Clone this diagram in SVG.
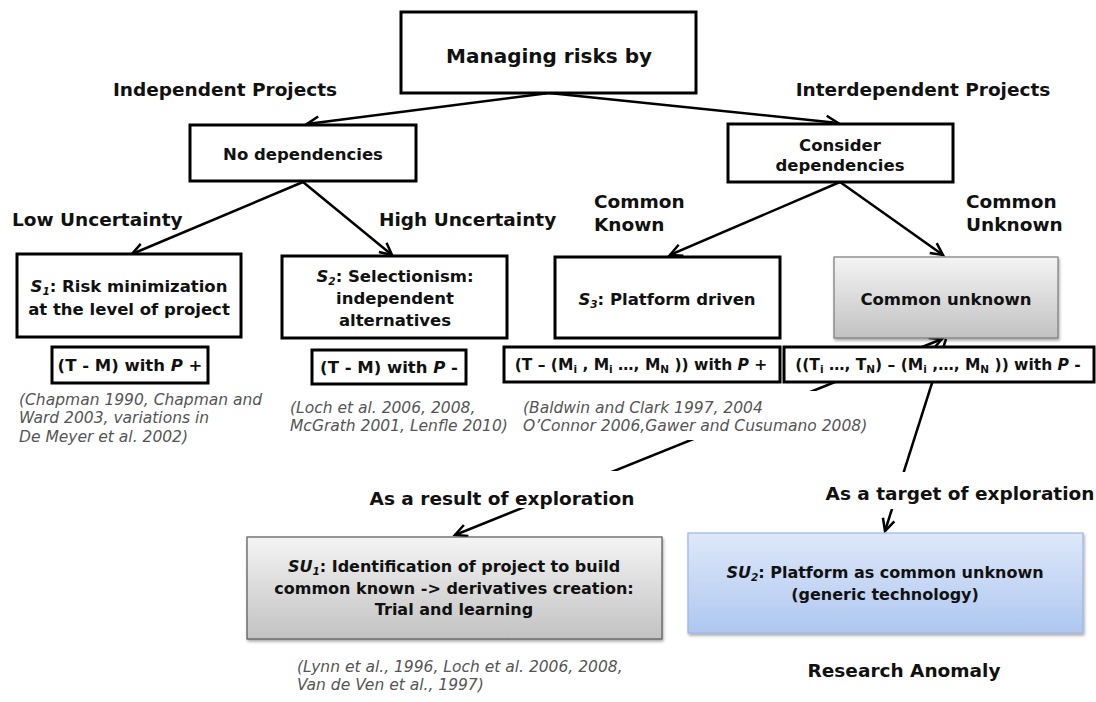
<svg xmlns="http://www.w3.org/2000/svg" width="1096" height="702" viewBox="0 0 1096 702">
<style>
  text { font-family: "DejaVu Sans", "Liberation Sans", sans-serif; fill: #111; }
  .lbl { font-weight: bold; font-size: 18.5px; }
  .nt { font-weight: bold; font-size: 16.5px; text-anchor: middle; }
  .ft { font-weight: bold; font-size: 15.5px; text-anchor: middle; }
  .cit { font-style: italic; font-size: 15.5px; fill: #555; }
  .box { fill: #fff; stroke: #000; stroke-width: 3; }
  .con { fill: none; stroke: #000; stroke-width: 2.5; }
  .sub { font-size: 10.5px; }
</style>
<defs>
  <marker id="arr" markerWidth="18" markerHeight="18" refX="15" refY="8" orient="auto-start-reverse" markerUnits="userSpaceOnUse">
    <path d="M3,2 L15,8 L3,14" fill="none" stroke="#000" stroke-width="2.5"/>
  </marker>
  <linearGradient id="gGray" x1="0" y1="0" x2="0" y2="1">
    <stop offset="0" stop-color="#f4f4f4"/>
    <stop offset="1" stop-color="#c2c2c2"/>
  </linearGradient>
  <linearGradient id="gBlue" x1="0" y1="0" x2="0" y2="1">
    <stop offset="0" stop-color="#dee8f9"/>
    <stop offset="1" stop-color="#aec7f0"/>
  </linearGradient>
  <filter id="sh" x="-5%" y="-5%" width="112%" height="120%">
    <feDropShadow dx="1" dy="2" stdDeviation="1.5" flood-color="#000" flood-opacity="0.35"/>
  </filter>
</defs>
<rect width="1096" height="702" fill="#fff"/>

<g id="connectors">
  <line class="con" x1="549" y1="93" x2="307" y2="124" marker-end="url(#arr)"/>
  <line class="con" x1="549" y1="93" x2="838" y2="123" marker-end="url(#arr)"/>
  <line class="con" x1="303" y1="182" x2="132" y2="254" marker-end="url(#arr)"/>
  <line class="con" x1="303" y1="182" x2="392" y2="255" marker-end="url(#arr)"/>
  <line class="con" x1="840" y1="182" x2="670" y2="255" marker-end="url(#arr)"/>
  <line class="con" x1="840" y1="182" x2="943" y2="255" marker-end="url(#arr)"/>
  <line class="con" x1="455" y1="535" x2="942" y2="339" marker-start="url(#arr)" marker-end="url(#arr)"/>
  <line class="con" x1="946" y1="339" x2="885" y2="531" marker-end="url(#arr)"/>
</g>

<g id="top">
  <rect class="box" x="401" y="12" width="295" height="81"/>
  <text x="549" y="63" style="font-weight:bold;font-size:20px" text-anchor="middle">Managing risks by</text>
</g>

<g id="label-independent"><text class="lbl" x="225" y="96" text-anchor="middle">Independent Projects</text></g>
<g id="label-interdependent"><text class="lbl" x="923" y="96" text-anchor="middle">Interdependent Projects</text></g>

<g id="no-dependencies">
  <rect class="box" x="190" y="125" width="226" height="56"/>
  <text class="nt" x="303" y="160">No dependencies</text>
</g>

<g id="consider-dependencies">
  <rect class="box" x="728" y="124" width="225" height="58"/>
  <text class="nt" x="840" y="151">Consider</text>
  <text class="nt" x="840" y="171">dependencies</text>
</g>

<g id="label-low"><text class="lbl" x="12" y="226">Low Uncertainty</text></g>
<g id="label-high"><text class="lbl" x="379" y="226">High Uncertainty</text></g>
<g id="label-common-known"><text class="lbl" x="594" y="208">Common</text><text class="lbl" x="594" y="231">Known</text></g>
<g id="label-common-unknown"><text class="lbl" x="966" y="208">Common</text><text class="lbl" x="966" y="231">Unknown</text></g>

<g id="s1">
  <rect class="box" x="17" y="254" width="224" height="83"/>
  <text class="nt" x="129" y="292"><tspan font-style="italic">S<tspan class="sub" baseline-shift="-3">1</tspan></tspan>: Risk minimization</text>
  <text class="nt" x="129" y="315">at the level of project</text>
</g>

<g id="s2">
  <rect class="box" x="282" y="256" width="225" height="82"/>
  <text class="nt" x="395" y="282"><tspan font-style="italic">S<tspan class="sub" baseline-shift="-3">2</tspan></tspan>: Selectionism:</text>
  <text class="nt" x="395" y="304">independent</text>
  <text class="nt" x="395" y="326">alternatives</text>
</g>

<g id="s3">
  <rect class="box" x="555" y="257" width="225" height="81"/>
  <text class="nt" x="667" y="305"><tspan font-style="italic">S<tspan class="sub" baseline-shift="-3">3</tspan></tspan>: Platform driven</text>
</g>

<g id="common-unknown">
  <rect x="834" y="257" width="224" height="81" fill="url(#gGray)" stroke="#7a7a7a" stroke-width="1.2" filter="url(#sh)"/>
  <text class="nt" x="946" y="305">Common unknown</text>
</g>

<g id="f1">
  <rect class="box" x="52" y="347" width="156" height="36"/>
  <text class="nt" x="130" y="371">(T - M) with <tspan font-style="italic">P</tspan> +</text>
</g>

<g id="f2">
  <rect class="box" x="312" y="350" width="154" height="34"/>
  <text class="nt" x="389" y="373">(T - M) with <tspan font-style="italic">P</tspan> -</text>
</g>

<g id="f3">
  <rect class="box" x="504" y="347" width="276" height="35"/>
  <text class="ft" x="641" y="370">(T – (M<tspan class="sub" baseline-shift="-3">i</tspan> , M<tspan class="sub" baseline-shift="-3">i</tspan> …, M<tspan class="sub" baseline-shift="-3">N</tspan> ))  with <tspan font-style="italic">P</tspan> +</text>
</g>

<g id="f4">
  <rect class="box" x="784" y="347" width="310" height="35"/>
  <text class="ft" x="938" y="370">((T<tspan class="sub" baseline-shift="-3">i</tspan> …, T<tspan class="sub" baseline-shift="-3">N</tspan>) – (M<tspan class="sub" baseline-shift="-3">i</tspan> ,…, M<tspan class="sub" baseline-shift="-3">N</tspan> ))  with <tspan font-style="italic">P</tspan> -</text>
</g>

<g id="cit-chapman">
  <text class="cit" x="19" y="405">(Chapman 1990, Chapman and</text>
  <text class="cit" x="19" y="423">Ward 2003, variations in</text>
  <text class="cit" x="19" y="442">De Meyer et al. 2002)</text>
</g>
<g id="cit-loch">
  <text class="cit" x="290" y="413">(Loch et al. 2006, 2008,</text>
  <text class="cit" x="290" y="431">McGrath 2001, Lenfle 2010)</text>
</g>
<g id="cit-baldwin">
  <rect x="515" y="391" width="355" height="49" fill="#fff"/>
  <text class="cit" x="523" y="413">(Baldwin and Clark 1997, 2004</text>
  <text class="cit" x="523" y="431">O’Connor 2006,Gawer and Cusumano 2008)</text>
</g>

<g id="label-result">
  <rect x="365" y="471" width="275" height="37" fill="#fff"/>
  <text class="lbl" x="502" y="505" text-anchor="middle">As a result of exploration</text>
</g>
<g id="label-target">
  <rect x="822" y="472" width="274" height="37" fill="#fff"/>
  <text class="lbl" x="960" y="500" text-anchor="middle">As a target of exploration</text>
</g>

<g id="su1">
  <rect x="247" y="537" width="415" height="102" fill="url(#gGray)" stroke="#555" stroke-width="1.2" filter="url(#sh)"/>
  <text class="nt" x="454" y="572" style="font-size:16px"><tspan font-style="italic">SU<tspan class="sub" baseline-shift="-3">1</tspan></tspan>: Identification of project to build</text>
  <text class="nt" x="454" y="594" style="font-size:16px">common known -&gt; derivatives creation:</text>
  <text class="nt" x="454" y="615" style="font-size:16px">Trial and learning</text>
</g>

<g id="su2">
  <rect x="688" y="533" width="395" height="100" fill="url(#gBlue)" stroke="#9db6e2" stroke-width="1.2" filter="url(#sh)"/>
  <text class="nt" x="885" y="578" style="font-size:16px"><tspan font-style="italic">SU<tspan class="sub" baseline-shift="-3">2</tspan></tspan>: Platform as  common unknown</text>
  <text class="nt" x="885" y="600" style="font-size:16px">(generic technology)</text>
</g>

<g id="cit-lynn">
  <text class="cit" x="297" y="672">(Lynn et al., 1996, Loch et al. 2006, 2008,</text>
  <text class="cit" x="297" y="690">Van de Ven et al., 1997)</text>
</g>

<g id="label-research"><text class="lbl" x="904" y="677" text-anchor="middle">Research Anomaly</text></g>
</svg>
